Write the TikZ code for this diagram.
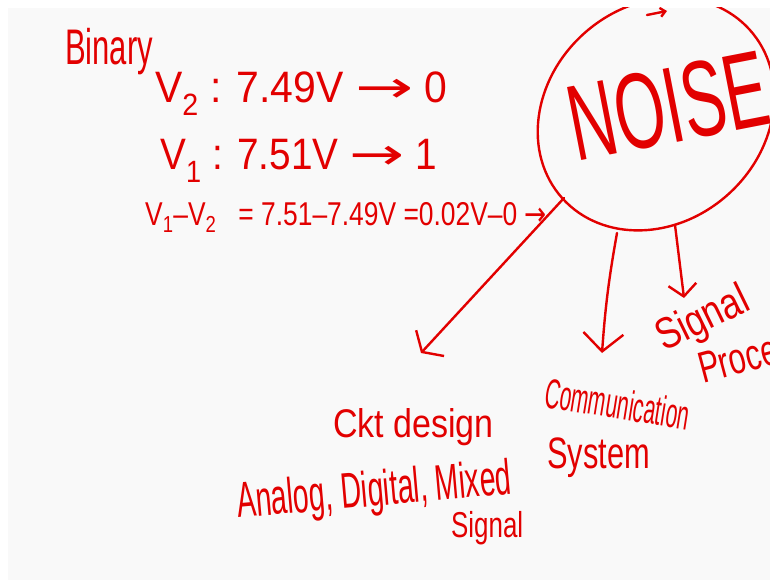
\documentclass[tikz,border=0pt]{standalone}
\usepackage{graphicx}
\usepackage{fontspec}
\setmainfont{Liberation Sans}
\newfontfamily\arrowfont{DejaVu Sans}
\usetikzlibrary{arrows.meta,shapes.geometric}
\definecolor{ink}{RGB}{226,0,0}
\definecolor{board}{RGB}{249,249,249}
\newcommand{\longarr}[1]{\scalebox{#1}[1]{\arrowfont →}}
\begin{document}
\begin{tikzpicture}[x=1pt,y=-1pt,
  hw/.style={text=ink, inner sep=0pt, font=\fontsize{#1}{#1}\selectfont},
  hw/.default=40,
  stroke/.style={draw=ink, line width=2.4pt, line cap=round, line join=round},
  bubble/.style={ellipse, draw=ink, line width=2.4pt, inner sep=0pt},
  barb/.style n args={2}{-{Straight Barb[length=#1pt,width=#2pt]}}]
\useasboundingbox (0,0) rectangle (770,580);
\fill[white] (0,0) rectangle (770,580);
\fill[board] (8,8) rectangle (770,580);
\begin{scope}
\clip (8,8) rectangle (770,580);
% left notes
\node[hw=50, anchor=base west, xscale=0.62] (binary) at (65,65) {Binary};
\node[hw=44, anchor=base west, xscale=0.93] (v2) at (155,103) {V\textsubscript{2} : 7.49V \longarr{1.7} 0};
\node[hw=44, anchor=base west, xscale=0.88] (v1) at (160,170) {V\textsubscript{1} : 7.51V \longarr{1.7} 1};
\node[hw=33, anchor=base west, xscale=0.8] (diff) at (145,225) {V\textsubscript{1}–V\textsubscript{2} \ \ = 7.51–7.49V =0.02V–0 \longarr{1}};
% noise bubble
\node[bubble, minimum width=252pt, minimum height=216pt, rotate=42] (noise) at (656,114) {};
\node[hw=108, rotate=11, xscale=0.6] (noisetext) at (668,106) {NOISE};
\coordinate (tops) at (647,15);
\coordinate (tope) at (667,11);
\draw[stroke, barb={5}{9}] (tops) -- (tope);
% branches
\coordinate (as) at (564,198);
\coordinate (ae) at (421,353);
\coordinate (bs) at (617,233);
\coordinate (be) at (602,353);
\coordinate (cs) at (675,225);
\coordinate (ce) at (684,298);
\draw[stroke, barb={12}{38}] (as) -- (ae);
\draw[stroke, barb={18}{40}] (bs) to[bend right=3] (be);
\draw[stroke, barb={12}{28}] (cs) -- (ce);
% labels
\node[hw=40, anchor=base west, xscale=0.85] (ckt) at (333,437) {Ckt design};
\node[hw=50, anchor=base west, rotate=5, xscale=0.57] (adm) at (238,518) {Analog, Digital, Mixed};
\node[hw=36, anchor=base west, xscale=0.72] (sig1) at (451,537) {Signal};
\node[hw=42, anchor=base west, rotate=-9, xscale=0.5] (comm) at (543,407) {Communication};
\node[hw=44, anchor=base west, xscale=0.7] (sys) at (547,468) {System};
\node[hw=44, anchor=base west, rotate=26, xscale=0.8] (sig2) at (664,352) {Signal};
\node[hw=44, anchor=base west, rotate=15, xscale=0.7] (proc) at (703,384) {Processing};
\end{scope}
\end{tikzpicture}
\end{document}
